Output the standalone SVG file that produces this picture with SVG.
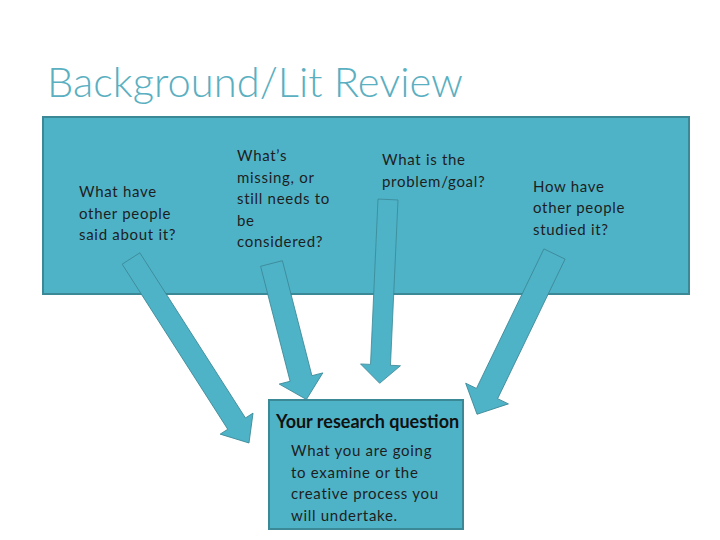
<svg xmlns="http://www.w3.org/2000/svg" width="720" height="540" viewBox="0 0 720 540">
<style>
.box{fill:#4FB3C8;stroke:#3B8896;stroke-width:2}
.arr{fill:#4FB3C8;stroke:#3B8896;stroke-width:0.8}
.t{font-family:Lato,"Open Sans",sans-serif;font-size:15px;letter-spacing:0.7px;fill:#1e1e1e}
.title{font-family:Lato,"Open Sans",sans-serif;font-weight:300;font-size:42px;fill:#5AAFC1}
.b{font-family:Lato,"Open Sans",sans-serif;font-weight:bold;font-size:18px;fill:#111}
</style>
<rect width="720" height="540" fill="#fff"/>
<text class="title" x="47" y="97" textLength="416" lengthAdjust="spacingAndGlyphs">Background/Lit Review</text>
<g id="lit-box">
<rect class="box" x="43" y="117" width="646" height="177"/>
<text class="t" x="79" y="197">What have</text>
<text class="t" x="79" y="218.5">other people</text>
<text class="t" x="79" y="240">said about it?</text>
<text class="t" x="237" y="161">What’s</text>
<text class="t" x="237" y="182.5">missing, or</text>
<text class="t" x="237" y="204">still needs to</text>
<text class="t" x="237" y="225.5">be</text>
<text class="t" x="237" y="247">considered?</text>
<text class="t" x="382" y="165">What is the</text>
<text class="t" x="382" y="186.5">problem/goal?</text>
<text class="t" x="533" y="191.5">How have</text>
<text class="t" x="533" y="213">other people</text>
<text class="t" x="533" y="234.5">studied it?</text>
</g>
<g id="connectors">
<polygon class="arr" transform="translate(131,258.5) rotate(-32.6)" points="-10.5,0 10.5,0 10.5,196 19.5,196 0,219 -19.5,196 -10.5,196"/>
<polygon class="arr" transform="translate(271.5,263.5) rotate(-14.4)" points="-11.25,0 11.25,0 11.25,118.7 22.5,118.7 0,140.4 -22.5,118.7 -11.25,118.7"/>
<polygon class="arr" transform="translate(388,199.5) rotate(2.6)" points="-10,0 10,0 10,165.5 20,165.5 0,184 -20,165.5 -10,165.5"/>
<polygon class="arr" transform="translate(554.5,254) rotate(25.8)" points="-11.75,0 11.75,0 11.75,155 23.75,155 0,178 -23.75,155 -11.75,155"/>
</g>
<g id="research-question">
<rect class="box" x="269" y="400" width="194" height="129"/>
<text class="b" x="276" y="428">Your research question</text>
<text class="t" x="291" y="456">What you are going</text>
<text class="t" x="291" y="477.5">to examine or the</text>
<text class="t" x="291" y="499">creative process you</text>
<text class="t" x="291" y="520.5">will undertake.</text>
</g>
</svg>
